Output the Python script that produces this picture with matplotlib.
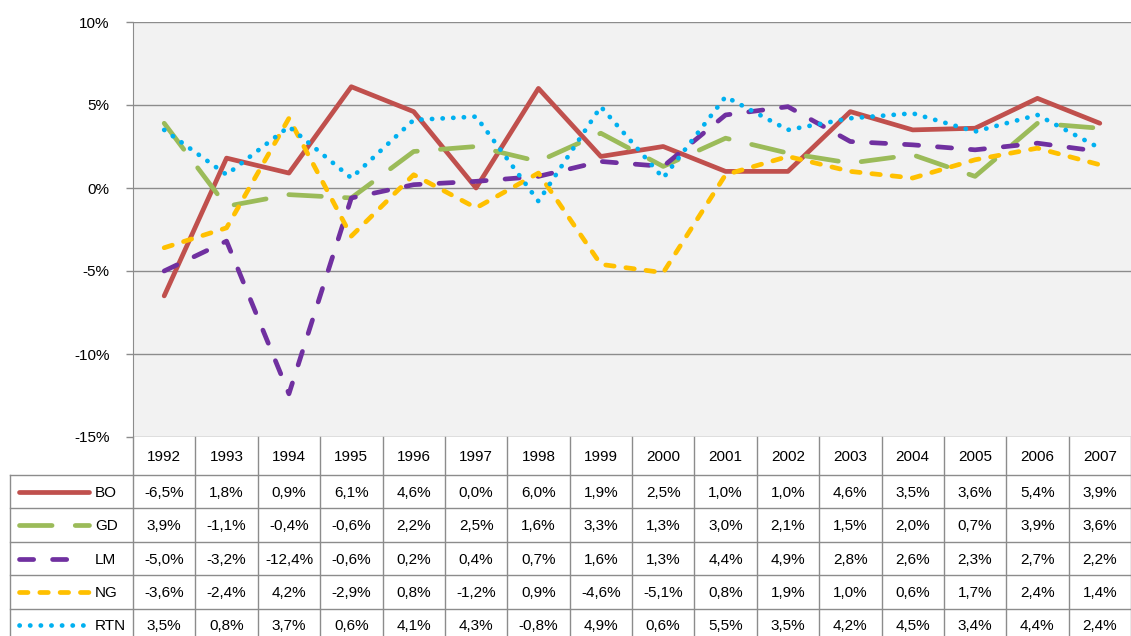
import matplotlib
matplotlib.use("Agg")
import matplotlib.pyplot as plt

plt.rcParams['font.family'] = ['Liberation Sans', 'DejaVu Sans']

years = ["1992", "1993", "1994", "1995", "1996", "1997", "1998", "1999",
         "2000", "2001", "2002", "2003", "2004", "2005", "2006", "2007"]

bo = [-6.5, 1.8, 0.9, 6.1, 4.6, 0.0, 6.0, 1.9, 2.5, 1.0, 1.0, 4.6, 3.5, 3.6, 5.4, 3.9]
gd = [3.9, -1.1, -0.4, -0.6, 2.2, 2.5, 1.6, 3.3, 1.3, 3.0, 2.1, 1.5, 2.0, 0.7, 3.9, 3.6]
lm = [-5.0, -3.2, -12.4, -0.6, 0.2, 0.4, 0.7, 1.6, 1.3, 4.4, 4.9, 2.8, 2.6, 2.3, 2.7, 2.2]
ng = [-3.6, -2.4, 4.2, -2.9, 0.8, -1.2, 0.9, -4.6, -5.1, 0.8, 1.9, 1.0, 0.6, 1.7, 2.4, 1.4]
rtn = [3.5, 0.8, 3.7, 0.6, 4.1, 4.3, -0.8, 4.9, 0.6, 5.5, 3.5, 4.2, 4.5, 3.4, 4.4, 2.4]

series_names = ["BO", "GD", "LM", "NG", "RTN"]
series_values = [bo, gd, lm, ng, rtn]
series_colors = ["#C0504D", "#9BBB59", "#7030A0", "#FFC000", "#00B0F0"]
series_dashes = [None, (0, (6.9, 4.9)), (0, (3.0, 4.0)), (0, (1.8, 2.5)), (0, (0.05, 2.2))]
key_ends = [89, 89, 75, 89, 89]

y_ticks = [-15, -10, -5, 0, 5, 10]

FW, FH = 1131, 636
left_px, right_px, top_px, bottom_px = 133, 1131, 22, 437
ncol = len(years)
colw = (right_px - left_px) / ncol
grid_color = "#8C8C8C"
lw = 3.4

fig = plt.figure(figsize=(FW / 100, FH / 100), dpi=100)
ax = fig.add_axes([left_px / FW, 1 - bottom_px / FH,
                   (right_px - left_px) / FW, (bottom_px - top_px) / FH])
ax.set_facecolor("#F2F2F2")

x = list(range(ncol))
for i, (name, vals, col, ds) in enumerate(zip(series_names, series_values,
                                               series_colors, series_dashes)):
    line, = ax.plot(x, vals, color=col, lw=lw, zorder=3 + i,
                    solid_capstyle='round', dash_capstyle='round',
                    solid_joinstyle='round')
    if ds is not None:
        line.set_linestyle(ds)

ax.set_xlim(-0.5, ncol - 0.5)
ax.set_ylim(-15, 10)
ax.set_yticks(y_ticks)
ax.set_yticklabels([f"{t}%" for t in y_ticks], fontsize=11)
ax.set_xticks([])
for t in y_ticks:
    ax.axhline(t, color=grid_color, lw=1, zorder=1)
for s in ["right", "bottom", "top"]:
    ax.spines[s].set_visible(False)
ax.spines["left"].set_color(grid_color)
ax.tick_params(axis='y', length=5, width=1, color=grid_color, pad=12,
               labelcolor="#000000")

# Data table beneath the plot, laid out in pixel coordinates
tb = fig.add_axes([0, 0, 1, 1], zorder=0)
tb.set_xlim(0, FW)
tb.set_ylim(FH, 0)
tb.axis("off")
tb.patch.set_visible(False)

header_top, header_bot = bottom_px, 475
row_h = 33.4
table_left = 10
row_edges = [header_bot + k * row_h for k in range(len(series_names) + 1)]

# vertical lines
for k in range(ncol + 1):
    xx = left_px + k * colw
    tb.plot([xx, xx], [header_top, FH + 5], color=grid_color, lw=1)
tb.plot([table_left, table_left], [header_bot, FH + 5], color=grid_color, lw=1)
# horizontal lines
for ry in row_edges[:-1]:
    tb.plot([table_left, right_px], [ry, ry], color=grid_color, lw=1)

# header
for k, yr in enumerate(years):
    tb.text(left_px + (k + 0.5) * colw, (header_top + header_bot) / 2 + 1, yr,
            ha="center", va="center", fontsize=11)

# rows with legend keys
for r, (name, vals, col, ds, kend) in enumerate(zip(series_names, series_values,
                                                     series_colors, series_dashes,
                                                     key_ends)):
    cy = row_edges[r] + row_h / 2 + 1
    key, = tb.plot([19, kend], [cy - 1, cy - 1], color=col, lw=lw,
                   solid_capstyle='round', dash_capstyle='round')
    if ds is not None:
        key.set_linestyle(ds)
    tb.text(95, cy, name, ha="left", va="center", fontsize=11)
    for k, v in enumerate(vals):
        txt = f"{v:.1f}%".replace(".", ",")
        tb.text(left_px + (k + 0.5) * colw, cy, txt,
                ha="center", va="center", fontsize=11)

fig.savefig("out.png", dpi=100)
